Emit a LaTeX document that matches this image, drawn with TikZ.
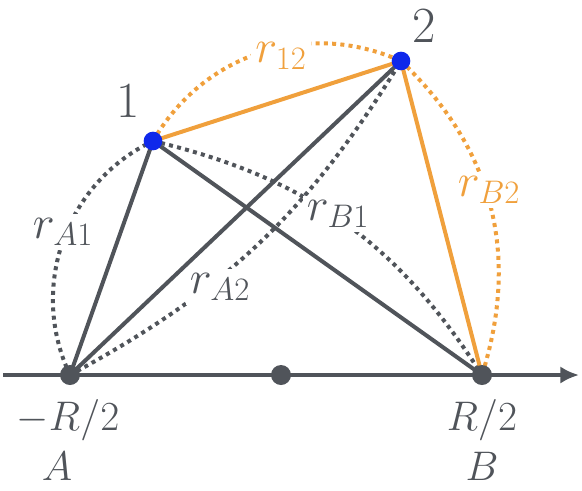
\documentclass[tikz,border=0pt]{standalone}
\usepackage{fix-cm}
\usetikzlibrary{arrows.meta}
\definecolor{gr}{RGB}{80,84,90}
\definecolor{orng}{RGB}{240,160,60}
\definecolor{dotblue}{RGB}{15,40,235}
\begin{document}
\begin{tikzpicture}[x=0.75pt,y=-0.75pt,
  sline/.style={line width=3pt,draw=gr},
  oline/.style={line width=3pt,draw=orng},
  darc/.style={line width=3pt,draw=gr,dash pattern=on 3pt off 3.2pt},
  oarc/.style={line width=3pt,draw=orng,dash pattern=on 3pt off 3.2pt},
  lab/.style={fill=white,inner sep=3pt,text=gr,font=\fontsize{35}{37}\selectfont},
  olab/.style={lab,text=orng},
  axlab/.style={text=gr,font=\fontsize{31}{33}\selectfont},
  numlab/.style={text=gr,font=\fontsize{38}{40}\selectfont},
  gdot/.style={circle,fill=gr,inner sep=0pt,minimum size=15pt},
  bdot/.style={circle,fill=dotblue,inner sep=0pt,minimum size=14pt}
]
\useasboundingbox (0,0) rectangle (582,490);
\coordinate (A) at (70,375);
\coordinate (M) at (281,375);
\coordinate (B) at (482,375);
\coordinate (P1) at (153,141);
\coordinate (P2) at (401,61);
\coordinate (L) at (3,375);
\coordinate (R) at (579,375);
% dotted arcs
\draw[darc] (A) to[bend left=45] (P1);
\draw[darc] (P1) to[bend left=22] (B);
\draw[darc] (A) to[bend right=15] (P2);
\draw[oarc] (P1) to[bend left=42] (P2);
\draw[oarc] (P2) to[bend left=32] (B);
% labels (gap the arcs)
\node[lab] (lA1) at (63,232) {$r_{A1}$};
\node[lab] (lB1) at (338,214) {$r_{B1}$};
\node[lab] (lA2) at (220,287) {$r_{A2}$};
\node[olab] (l12) at (281,56) {$r_{12}$};
\node[olab] (lB2) at (489,190) {$r_{B2}$};
% axis
\draw[line width=3pt,gr,-{Latex[length=14pt,width=13pt]}] (L) -- (R);
% solid lines
\draw[sline] (A) -- (P1);
\draw[sline] (A) -- (P2);
\draw[sline] (P1) -- (B);
\draw[oline] (P1) -- (P2);
\draw[oline] (P2) -- (B);
% dots
\node[gdot] (dA) at (A) {};
\node[gdot] (dM) at (M) {};
\node[gdot] (dB) at (B) {};
\node[bdot] (d1) at (P1) {};
\node[bdot] (d2) at (P2) {};
% texts
\node[numlab] (n1) at (128,101) {1};
\node[numlab] (n2) at (424,26) {2};
\node[axlab] (mA) at (68,420) {$-R/2$};
\node[axlab] (pB) at (482,420) {$R/2$};
\node[axlab] (tA) at (57,466) {$A$};
\node[axlab] (tB) at (482,466) {$B$};
\end{tikzpicture}
\end{document}
